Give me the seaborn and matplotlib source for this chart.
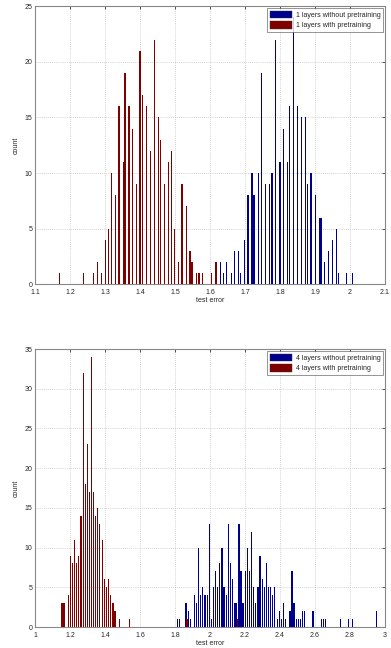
import numpy as np
import matplotlib
matplotlib.use("Agg")
import matplotlib.pyplot as plt
from matplotlib.patches import Patch
from matplotlib.ticker import MultipleLocator, FuncFormatter
import seaborn as sns

# ---- 1-layer networks: test error histogram (value, count) ----
one_wo_err = [1.631, 1.638, 1.648, 1.661, 1.670, 1.681, 1.687, 1.698, 1.709, 1.720,
              1.726, 1.738, 1.747, 1.759, 1.771, 1.777, 1.788, 1.800, 1.810, 1.821,
              1.827, 1.838, 1.850, 1.861, 1.873, 1.878, 1.889, 1.901, 1.912, 1.917,
              1.928, 1.939, 1.951, 1.962, 1.967, 1.990, 2.008]
one_wo_cnt = [2, 1, 2, 1, 3, 3, 1, 4, 8, 10,
              8, 10, 19, 9, 9, 10, 22, 11, 14, 11,
              16, 24, 16, 15, 15, 9, 10, 8, 6, 6,
              2, 3, 4, 5, 1, 1, 1]

one_w_err = [1.171, 1.238, 1.267, 1.278, 1.290, 1.301, 1.311, 1.319, 1.330, 1.340,
             1.352, 1.357, 1.369, 1.379, 1.390, 1.400, 1.407, 1.419, 1.430, 1.441,
             1.452, 1.458, 1.470, 1.481, 1.491, 1.499, 1.510, 1.520, 1.532, 1.543,
             1.549, 1.561, 1.569, 1.578, 1.605, 1.617]
one_w_cnt = [1, 1, 1, 2, 1, 4, 5, 10, 8, 16,
             11, 19, 16, 14, 9, 21, 17, 16, 12, 22,
             15, 13, 9, 11, 12, 5, 2, 9, 7, 3,
             2, 1, 1, 1, 1, 2]

# ---- 4-layer networks ----
four_wo_err = [1.815, 1.827, 1.863, 1.876, 1.888, 1.912, 1.922, 1.935, 1.947, 1.958,
               1.971, 1.985, 1.998, 2.008, 2.021, 2.032, 2.044, 2.055, 2.069, 2.080,
               2.093, 2.105, 2.116, 2.130, 2.143, 2.152, 2.166, 2.177, 2.189, 2.202,
               2.213, 2.225, 2.238, 2.250, 2.261, 2.274, 2.286, 2.299, 2.310, 2.324,
               2.335, 2.347, 2.358, 2.371, 2.385, 2.396, 2.408, 2.419, 2.432, 2.457,
               2.469, 2.480, 2.495, 2.507, 2.518, 2.530, 2.541, 2.589, 2.638, 2.650,
               2.661, 2.747, 2.792, 2.815, 2.950]
four_wo_cnt = [1, 1, 3, 2, 1, 4, 3, 10, 4, 5,
               4, 4, 13, 1, 5, 7, 5, 8, 10, 5,
               4, 13, 8, 6, 3, 3, 13, 7, 3, 7,
               10, 7, 12, 5, 3, 5, 9, 6, 5, 8,
               5, 5, 4, 5, 1, 2, 1, 3, 1, 2,
               7, 3, 1, 1, 1, 2, 2, 2, 1, 1,
               1, 1, 1, 1, 2]

four_w_err = [1.154, 1.166, 1.192, 1.202, 1.215, 1.227, 1.238, 1.250, 1.263, 1.276,
              1.288, 1.299, 1.312, 1.324, 1.335, 1.347, 1.358, 1.370, 1.385, 1.396,
              1.408, 1.421, 1.432, 1.446, 1.457, 1.482, 1.539, 1.869, 2.156]
four_w_cnt = [3, 3, 4, 9, 8, 11, 8, 9, 14, 32,
              18, 23, 17, 34, 17, 14, 15, 13, 11, 6,
              5, 6, 4, 3, 2, 1, 1, 1, 1]

labels_one = ["1 layers without pretraining", "1 layers with pretraining"]
labels_four = ["4 layers without pretraining", "4 layers with pretraining"]

BLUE = "#00008F"
RED = "#800000"

sns.set_style("white")
plt.rcParams["font.family"] = ["Liberation Sans", "DejaVu Sans"]
plt.rcParams["font.size"] = 5

fig = plt.figure(figsize=(3.91, 6.48), dpi=100)
ax_top = fig.add_axes([0.0895, 0.5613, 0.8951, 0.4290])
ax_bot = fig.add_axes([0.0895, 0.0324, 0.8951, 0.4290])


def fmt(v, _):
    return f"{v:g}"


def panel(ax, err_a, cnt_a, err_b, cnt_b, labels, xlim, xstep, ylim, ystep):
    sns.barplot(x=err_a, y=cnt_a, native_scale=True, orient="v", color=BLUE,
                saturation=1, errorbar=None, width=0.75, linewidth=0,
                edgecolor="none", ax=ax)
    sns.barplot(x=err_b, y=cnt_b, native_scale=True, orient="v", color=RED,
                saturation=1, errorbar=None, width=0.75, linewidth=0,
                edgecolor="none", ax=ax)
    ax.set_xlim(*xlim)
    ax.set_ylim(*ylim)
    ax.xaxis.set_major_locator(MultipleLocator(xstep))
    ax.yaxis.set_major_locator(MultipleLocator(ystep))
    ax.xaxis.set_major_formatter(FuncFormatter(fmt))
    ax.grid(True, linestyle=(0, (1, 1.5)), color="#c4c4c4", linewidth=0.6)
    ax.set_axisbelow(True)
    ax.tick_params(direction="in", length=2.5, width=0.6, color="#333333",
                   top=True, right=True, labelsize=5)
    ax.tick_params(axis="x", pad=3.5)
    ax.tick_params(axis="y", pad=2)
    for s in ax.spines.values():
        s.set_color("#888888")
        s.set_linewidth(0.8)
    ax.set_xlabel("test error", fontsize=5, labelpad=0.5)
    ax.set_ylabel("count", fontsize=5, labelpad=3)
    handles = [Patch(facecolor=BLUE, edgecolor="#333333", linewidth=0.3),
               Patch(facecolor=RED, edgecolor="#333333", linewidth=0.3)]
    leg = ax.legend(handles, labels, loc="upper right", fontsize=5,
                    frameon=True, fancybox=False, borderaxespad=0.25,
                    handlelength=3.2, handleheight=1.3, handletextpad=0.5,
                    borderpad=0.4, labelspacing=0.35)
    leg.get_frame().set_edgecolor("#444444")
    leg.get_frame().set_linewidth(0.5)


panel(ax_top, one_wo_err, one_wo_cnt, one_w_err, one_w_cnt, labels_one,
      (1.1, 2.1), 0.1, (0, 25), 5)
panel(ax_bot, four_wo_err, four_wo_cnt, four_w_err, four_w_cnt, labels_four,
      (1.0, 3.0), 0.2, (0, 35), 5)

fig.savefig("out.png", dpi=100)
